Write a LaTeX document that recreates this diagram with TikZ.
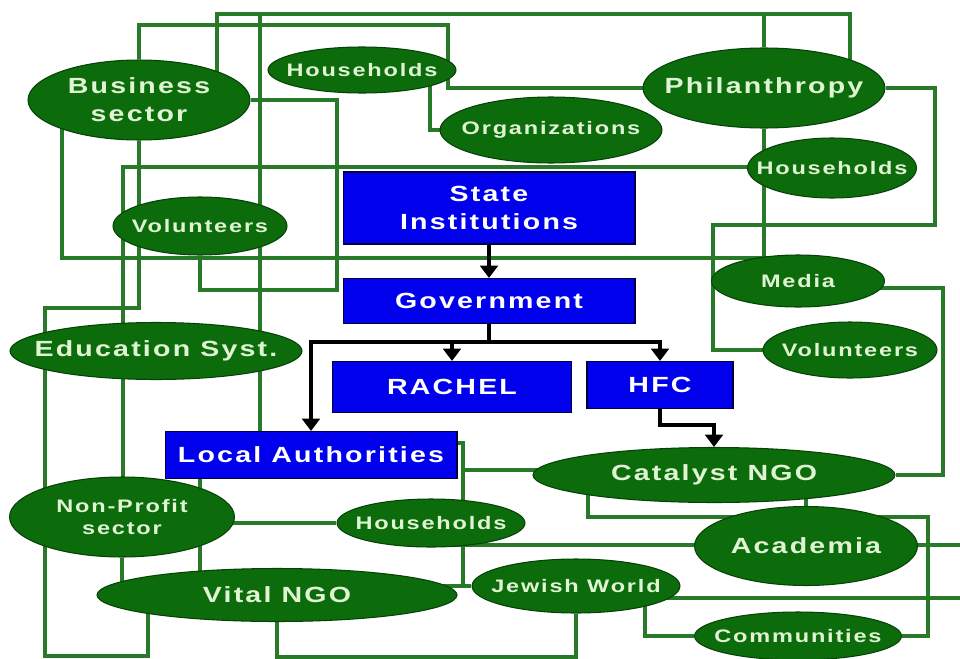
\documentclass[tikz,border=0pt]{standalone}
\usepackage{fontspec}
\usepackage{tikz}
\usetikzlibrary{arrows.meta,shapes.geometric,backgrounds}

\newfontfamily\lblfont[FakeStretch=1.3,LetterSpace=10]{Liberation Sans}
\definecolor{nodegreen}{RGB}{12,108,12}
\definecolor{edgegreen}{RGB}{6,66,6}
\definecolor{linkgreen}{RGB}{40,122,40}
\definecolor{boxblue}{RGB}{0,0,236}
\definecolor{paletext}{RGB}{224,244,212}

\tikzset{
  grp/.style={shape=ellipse,fill=nodegreen,draw=edgegreen,line width=0.6pt,inner xsep=-4cm,inner ysep=-1.5cm,text=paletext,align=center},
  inst/.style={shape=rectangle,fill=boxblue,draw=black!75!blue,line width=0.6pt,inner sep=0pt,text=white,align=center},
  big/.style={font=\lblfont\bfseries\fontsize{12.5}{16}\selectfont},
  small/.style={font=\lblfont\bfseries\fontsize{10.3}{12.5}\selectfont},
  link/.style={draw=linkgreen,line width=2.3pt},
  arr/.style={draw=black,line width=2.2pt,-{Triangle[width=10pt,length=7pt]}}
}

\begin{document}
\begin{tikzpicture}[x=0.02cm,y=-0.02cm]
    \useasboundingbox (0,0) rectangle (960,659);

    \node[grp,big,minimum width=4.44cm,minimum height=1.6cm] (bus) at (139,100) {Business\\sector};
    \node[grp,small,minimum width=3.76cm,minimum height=0.92cm] (hhA) at (362,70) {Households};
    \node[grp,small,minimum width=4.44cm,minimum height=1.32cm] (org) at (551,130) {Organizations};
    \node[grp,big,minimum width=4.84cm,minimum height=1.6cm] (phil) at (764,88) {Philanthropy};
    \node[grp,small,minimum width=3.38cm,minimum height=1.2cm] (hhB) at (832,168) {Households};
    \node[grp,small,minimum width=3.48cm,minimum height=1.16cm] (volA) at (200,226) {Volunteers};
    \node[grp,small,minimum width=3.46cm,minimum height=1.04cm] (media) at (798,281) {Media};
    \node[grp,big,minimum width=5.84cm,minimum height=1.14cm] (edu) at (156,351) {Education Syst.};
    \node[grp,small,minimum width=3.48cm,minimum height=1.12cm] (volB) at (850,350) {Volunteers};
    \node[grp,big,minimum width=7.24cm,minimum height=1.1cm] (cat) at (714,475) {Catalyst NGO};
    \node[grp,small,minimum width=4.5cm,minimum height=1.6cm] (npo) at (122,517) {Non-Profit\\sector};
    \node[grp,small,minimum width=3.76cm,minimum height=0.96cm] (hhC) at (431,523) {Households};
    \node[grp,big,minimum width=4.46cm,minimum height=1.58cm] (acad) at (806,546) {Academia};
    \node[grp,small,minimum width=4.16cm,minimum height=1.08cm] (jew) at (576,586) {Jewish World};
    \node[grp,big,minimum width=7.2cm,minimum height=1.06cm] (vital) at (277,595) {Vital NGO};
    \node[grp,small,minimum width=4.14cm,minimum height=0.96cm] (comm) at (798,636) {Communities};

    \node[inst,big,minimum width=5.84cm,minimum height=1.44cm] (state) at (489,208) {State\\Institutions};
    \node[inst,big,minimum width=5.84cm,minimum height=0.9cm] (gov) at (489,301) {Government};
    \node[inst,big,minimum width=4.78cm,minimum height=1.02cm] (rachel) at (452,387) {RACHEL};
    \node[inst,big,minimum width=2.92cm,minimum height=0.94cm] (hfc) at (660,385) {HFC};
    \node[inst,big,minimum width=5.84cm,minimum height=0.94cm] (local) at (311,455) {Local Authorities};

    \coordinate (rimA) at (960,545);
    \coordinate (rimB) at (960,598);

    \begin{pgfonlayer}{background}
    \fill[white] (0,0) rectangle (960,659);
    \draw[link] (bus) |- (448,25) |- (phil);
    \draw[link] (bus -| 217,0) |- (850,14) -- (phil -| 850,0);
    \draw[link] (local -| 260,0) |- (phil |- 0,14) -- (phil);
    \draw[link] (bus) -- (337,100) |- (volA |- 0,290) -- (volA);
    \draw[link] (bus -| 62,0) |- (media |- 0,258);
    \draw[link] (bus) |- (45,308) -- (npo -| 45,0);
    \draw[link] (npo -| 123,0) |- (hhB |- 0,167);
    \draw[link] (hhA -| 430,0) |- (org);
    \draw[link] (phil) -- (phil |- media);
    \draw[link] (phil) -| (935,225) -| (713,350) -- (volB);
    \draw[link] (media |- 0,288) -| (943,475) -- (cat);
    \draw[link] (cat |- 0,470) -| (463,443) -- (local |- 0,443);
    \draw[link] (jew) -| (463,470);
    \draw[link] (vital |- jew) -- (jew);
    \draw[link] (npo |- hhC) -- (hhC);
    \draw[link] (hhC |- 0,545) -- (rimA);
    \draw[link] (cat -| 588,0) |- (928,517) |- (comm);
    \draw[link] (acad) -- (acad |- cat);
    \draw[link] (jew |- 0,598) -- (rimB);
    \draw[link] (jew -| 645,0) |- (comm);
    \draw[link] (jew) |- (vital |- 0,657) -- (vital);
    \draw[link] (local -| 200,0) -- (vital -| 200,0);
    \draw[link] (npo) -- (npo |- vital);
    \draw[link] (npo -| 45,0) |- (148,656) -- (vital -| 148,0);
    \end{pgfonlayer}

    \draw[arr] (state) -- (gov);
    \draw[arr] (gov) |- (rachel |- 0,342) -- (rachel);
    \draw[arr] (gov) |- (hfc |- 0,342) -- (hfc);
    \draw[arr] (gov) |- (local |- 0,342) -- (local);
    \draw[arr] (hfc) |- (cat |- 0,425) -- (cat);
\end{tikzpicture}
\end{document}
